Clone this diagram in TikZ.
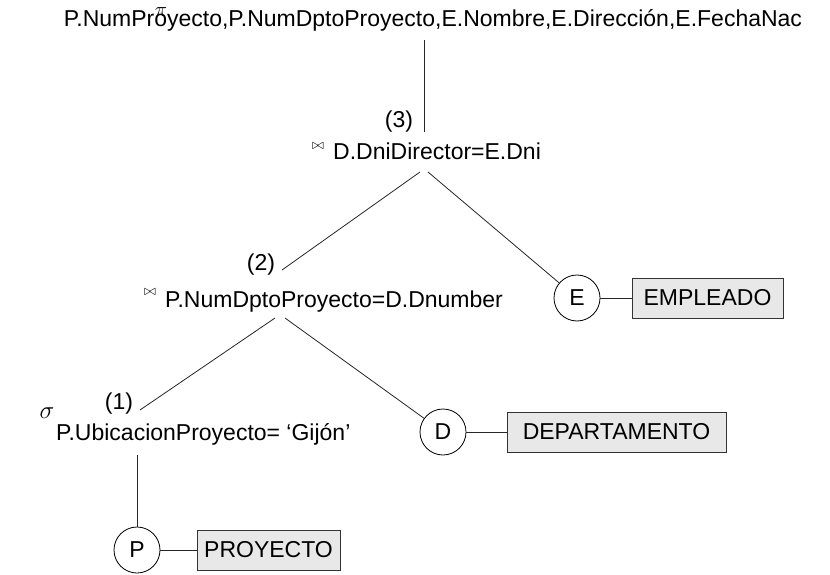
\documentclass[tikz,border=0pt]{standalone}
\usepackage{fontspec}
\setmainfont{Liberation Sans}
\usetikzlibrary{positioning}

\begin{document}
\begin{tikzpicture}[
    x=1pt, y=-1pt,
    txt/.style={font=\fontsize{23}{28}\selectfont, inner sep=0pt},
    num/.style={txt, anchor=base},
    cond/.style={txt, anchor=base west},
    op/.style={inner sep=0pt, font=\fontsize{21}{21}\selectfont},
    jop/.style={inner sep=0pt, font=\fontsize{15}{15}\selectfont},
    rel/.style={circle, draw, line width=0.8pt, minimum size=46pt, inner sep=0pt,
                font=\fontsize{23}{28}\selectfont},
    tbl/.style={rectangle, draw=black!80, fill=black!9, line width=1pt,
                minimum height=40pt, inner xsep=6pt, font=\fontsize{23}{28}\selectfont},
    edge/.style={line width=0.8pt, black!85},
]
\useasboundingbox (0,0) rectangle (830,575);

% === Projection ===
\node[num] (proj) at (433,27)
    {P.NumProyecto,P.NumDptoProyecto,E.Nombre,E.Dirección,E.FechaNac};
\node[op] (pi) at (161,12) {$\pi$};

% === Join (3) ===
\node[num] (lab3) at (399,128) {(3)};
\node[jop] (bow3) at (318,146) {$\bowtie$};
\node[cond] (cond3) at (333,160) {D.DniDirector=E.Dni};
\coordinate (j3top) at (424,40);
\coordinate (j3up) at (424,132);
\coordinate (j3l) at (420,172);
\coordinate (j3r) at (428,172);

% === Join (2) ===
\node[num] (lab2) at (261,270) {(2)};
\node[jop] (bow2) at (150,292) {$\bowtie$};
\node[cond] (cond2) at (165,307) {P.NumDptoProyecto=D.Dnumber};
\coordinate (j2top) at (282,270);
\coordinate (j2l) at (275,318);
\coordinate (j2r) at (285,318);

% === Selection (1) ===
\node[num] (lab1) at (119,409) {(1)};
\node[op, font=\fontsize{25}{25}\selectfont] (sigma) at (47,413) {$\sigma$};
\node[cond] (cond1) at (56,440) {P.UbicacionProyecto= ‘Gijón’};
\coordinate (j1top) at (140,410);
\coordinate (j1low) at (137,455);

% === Relations ===
\node[rel] (relE) at (577,298) {E};
\node[tbl, minimum width=151pt] (tblE) at (707.5,298) {EMPLEADO};
\node[rel] (relD) at (443,432) {D};
\node[tbl, minimum width=219pt] (tblD) at (616.5,432) {DEPARTAMENTO};
\node[rel] (relP) at (137,550) {P};
\node[tbl, minimum width=143pt] (tblP) at (268.5,550) {PROYECTO};

% === Tree edges ===
\draw[edge] (j3top) -- (j3up);
\draw[edge] (j3l) -- (j2top);
\draw[edge] (j3r) -- (relE);
\draw[edge] (j2l) -- (j1top);
\draw[edge] (j2r) -- (relD);
\draw[edge] (j1low) -- (relP);
\draw[edge] (relE) -- (tblE);
\draw[edge] (relD) -- (tblD);
\draw[edge] (relP) -- (tblP);

\end{tikzpicture}
\end{document}
